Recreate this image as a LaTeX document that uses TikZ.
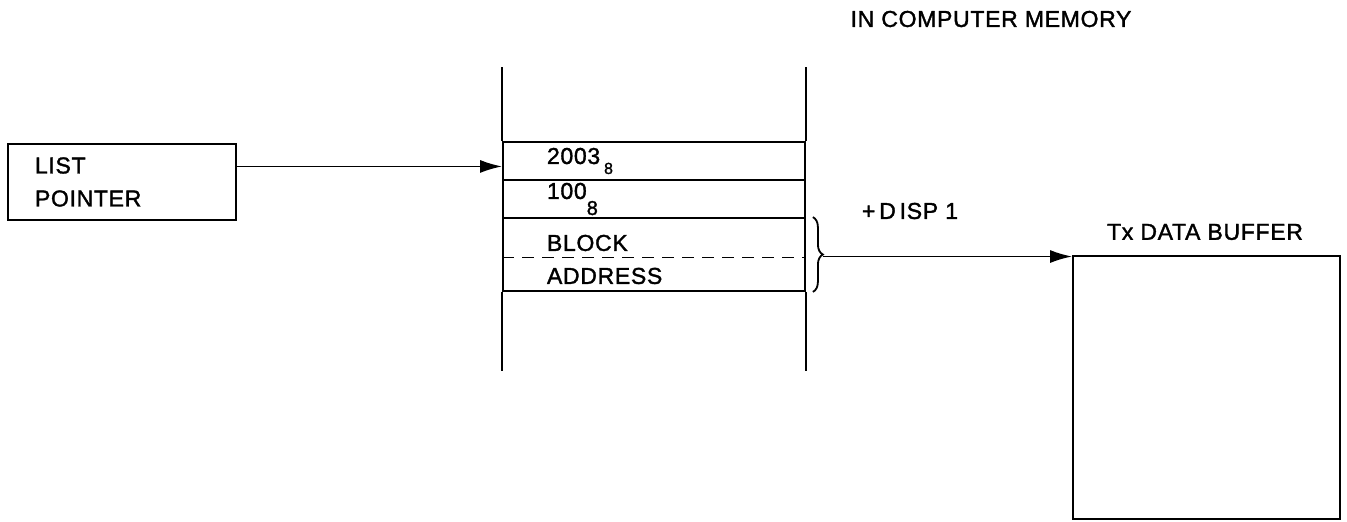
\documentclass[tikz,border=0pt]{standalone}
\usepackage{fontspec}
\setmainfont{Liberation Sans}[FakeBold=1.5, LetterSpace=3]
\usepackage{tikz}
\usetikzlibrary{positioning, arrows.meta, calc, decorations.pathreplacing}

\begin{document}
\begin{tikzpicture}[x=0.5pt, y=-0.5pt, line width=0.9pt,
      lbl/.style={font=\fontsize{11.5}{16.5}\selectfont, inner sep=0pt},
      memcell/.style={rectangle, draw, minimum width=151pt, inner ysep=0pt,
                      inner xsep=22pt, text width=107pt, align=left,
                      font=\fontsize{11.5}{16.5}\selectfont},
      ptr/.style={-{Latex[length=11pt, width=6.5pt]}}
    ]
    \useasboundingbox (0,0) rectangle (1347,521);

    %--- Pointer (left) ---
    \node[rectangle, draw, minimum width=114pt, minimum height=38pt,
          inner xsep=13.5pt, text width=87pt, align=left,
          font=\fontsize{11.5}{16.5}\selectfont] (lp) at (122,182)
          {LIST\\POINTER};

    %--- Memory words ---
    \node[memcell, minimum height=19pt] (w1) at (654,161)
          {2003\,\raisebox{-5pt}{\footnotesize 8}};
    \node[memcell, minimum height=19pt, below=-0.9pt of w1] (w2)
          {100\raisebox{-8pt}{\normalsize 8}};
    \node[memcell, minimum height=36.5pt, below=-0.9pt of w2] (blk)
          {\rule{0pt}{13pt}BLOCK\\ADDRESS};
    \draw[dash pattern=on 6pt off 4pt]
          ([yshift=-1.5pt]blk.west) -- ([yshift=-1.5pt]blk.east);
    % column sides
    \draw (w1.north west) -- ++(0,-74);
    \draw (w1.north east) -- ++(0,-74);
    \draw (blk.south west) -- ++(0,79);
    \draw (blk.south east) -- ++(0,79);
    \node[lbl] (mem) at (991,19) {IN COMPUTER MEMORY};

    % pointer into the list
    \coordinate (out) at ($(lp.north east)!0.3!(lp.south east)$);
    \draw[ptr] (out) -- (out -| w1.west);

    %--- Buffer (right) ---
    \node[rectangle, draw, minimum width=133.5pt, minimum height=131.5pt]
          (buf) at (1206.5,387.5) {};
    \node[lbl] (buftitle) at (1205,232) {Tx DATA BUFFER};

    % block address + displacement
    \draw[decorate, decoration={brace, amplitude=5pt}]
          ([xshift=3.5pt]blk.north east) -- ([xshift=3.5pt]blk.south east);
    \coordinate (tip) at ([xshift=8.5pt, yshift=-1pt]blk.east);
    \draw[ptr] (tip) -- (tip -| buf.north west);
    \node[lbl] (disp) at (910,211) {+\,D\,ISP 1};
  \end{tikzpicture}
\end{document}
